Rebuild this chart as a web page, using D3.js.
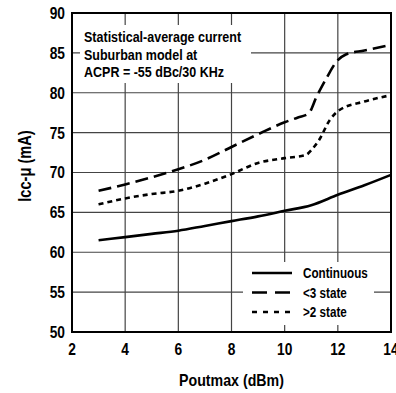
<!DOCTYPE html>
<html><head><meta charset="utf-8">
<script src="https://cdn.jsdelivr.net/npm/d3@7"></script>
<style>
html,body{margin:0;padding:0;background:#fff;}
svg text{font-family:"Liberation Sans",Arial,Helvetica,sans-serif;font-weight:bold;fill:#000;}
</style></head>
<body><svg id="c" width="396" height="393"></svg>
<script>
const xTicks = [2, 4, 6, 8, 10, 12, 14];
const yTicks = [50, 55, 60, 65, 70, 75, 80, 85, 90];
const seriesNames = ["Continuous", "<3 state", ">2 state"];
const contX = [3, 4, 5, 6, 7, 8, 9, 10, 11, 12, 13, 14];
const contY = [61.5, 61.9, 62.3, 62.7, 63.3, 63.9, 64.5, 65.2, 65.9, 67.2, 68.4, 69.7];
const state3X = [3, 4, 5, 6, 7, 8, 9, 10, 10.5, 10.9, 11.2, 11.6, 11.95, 12.3, 13, 14];
const state3Y = [67.7, 68.5, 69.4, 70.4, 71.6, 73.2, 74.8, 76.3, 76.9, 77.4, 79.5, 82.0, 83.9, 84.8, 85.3, 86.0];
const state2X = [3, 4, 5, 6, 7, 8, 9, 10, 10.8, 11.0, 11.3, 11.7, 12.05, 13, 14];
const state2Y = [66.0, 66.75, 67.3, 67.7, 68.6, 69.8, 71.2, 71.8, 72.2, 72.8, 74.1, 76.6, 77.8, 78.9, 79.7];
const noteLines = ["Statistical-average current", "Suburban model at", "ACPR = -55 dBc/30 KHz"];
const xTitle = "Poutmax (dBm)";
const yTitle = "Icc-\u03bc (mA)";

const svg = d3.select("#c");
const L = 72, R = 391, T = 13, B = 332;
const SX = 0.835; // condensed look
const x = d3.scaleLinear().domain([2, 14]).range([L, R]);
const y = d3.scaleLinear().domain([50, 90]).range([B, T]);

function label(parent, tx, ty, str, size, anchor, rot) {
  return parent.append("text")
    .attr("transform", `translate(${tx},${ty})` + (rot ? ` rotate(${rot})` : "") + ` scale(${SX},1)`)
    .attr("dy", "0.36em").attr("text-anchor", anchor || "start")
    .attr("font-size", size).text(str);
}

// grid
const g = svg.append("g");
g.selectAll(".vx").data(xTicks).join("line")
  .attr("x1", d => x(d)).attr("x2", d => x(d)).attr("y1", T).attr("y2", B)
  .attr("stroke", "#444").attr("stroke-width", 1.2);
g.selectAll(".hy").data(yTicks).join("line")
  .attr("x1", L).attr("x2", R).attr("y1", d => y(d)).attr("y2", d => y(d))
  .attr("stroke", "#444").attr("stroke-width", 1.2);

// white boxes (annotation + legend)
svg.append("rect").attr("x", 80).attr("y", 25).attr("width", 171).attr("height", 58).attr("fill", "#fff");
svg.append("rect").attr("x", 243).attr("y", 262).attr("width", 131).attr("height", 63).attr("fill", "#fff");

// frame
svg.append("rect").attr("x", L).attr("y", T).attr("width", R - L).attr("height", B - T)
  .attr("fill", "none").attr("stroke", "#000").attr("stroke-width", 2);

// lines
const line = d3.line().x(d => x(d[0])).y(d => y(d[1])).curve(d3.curveMonotoneX);
const dashes = [null, "13,6", "5,4"];
const series = [d3.zip(contX, contY), d3.zip(state3X, state3Y), d3.zip(state2X, state2Y)];
series.forEach((s, i) => {
  svg.append("path").datum(s).attr("d", line).attr("fill", "none")
    .attr("stroke", "#000").attr("stroke-width", 2.6)
    .attr("stroke-dasharray", dashes[i]);
});

// tick labels
yTicks.forEach(d => label(svg, 65, y(d), d, 16.5, "end"));
xTicks.forEach(d => label(svg, x(d), 349, d, 16.5, "middle"));

// titles
label(svg, (L + R) / 2, 380, xTitle, 17, "middle");
label(svg, 25, 166, yTitle, 17.5, "middle", -90);

// annotation
noteLines.forEach((d, i) => label(svg, 84, 37 + i * 17.5, d, 15, "start"));

// legend
seriesNames.forEach((n, i) => {
  const yy = 273 + i * 19.5;
  svg.append("line").attr("x1", 252).attr("x2", i === 2 ? 291 : 292).attr("y1", yy).attr("y2", yy)
    .attr("stroke", "#000").attr("stroke-width", 2.6)
    .attr("stroke-dasharray", i === 1 ? "15,8" : (i === 2 ? "5,6" : null));
  label(svg, 303, yy, n, 14, "start");
});
</script></body></html>
